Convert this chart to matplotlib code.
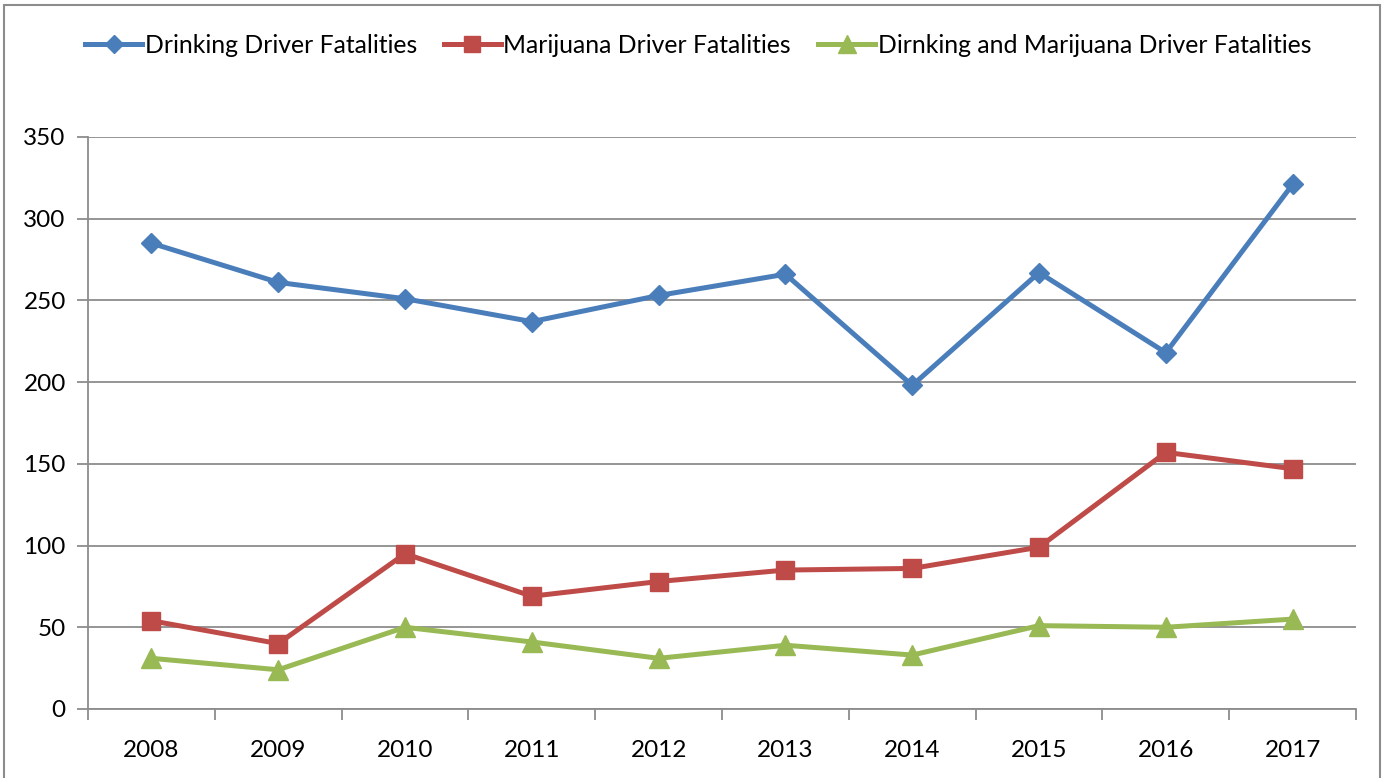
import matplotlib
matplotlib.use("Agg")
import matplotlib.pyplot as plt
from matplotlib.patches import Rectangle

years = ["2008", "2009", "2010", "2011", "2012", "2013", "2014", "2015", "2016", "2017"]
drinking = [285, 261, 251, 237, 253, 266, 198, 267, 218, 321]
marijuana = [54, 40, 95, 69, 78, 85, 86, 99, 157, 147]
both = [31, 24, 50, 41, 31, 39, 33, 51, 50, 55]

series_labels = [
    "Drinking Driver Fatalities",
    "Marijuana Driver Fatalities",
    "Dirnking and Marijuana Driver Fatalities",
]
y_ticks = [0, 50, 100, 150, 200, 250, 300, 350]

plt.rcParams["font.family"] = ["Lato", "DejaVu Sans"]

fig = plt.figure(figsize=(13.88, 7.78), dpi=100)
fig.patches.append(Rectangle((0.003, -0.01), 0.991, 1.003, transform=fig.transFigure,
                             fill=False, edgecolor="#8c8c8c", linewidth=1.5))
ax = fig.add_axes([0.0634, 0.0887, 0.9136, 0.7353])

x = list(range(len(years)))
ax.plot(x, drinking, color="#4A7EBB", lw=3.6, marker="D", ms=10,
        label=series_labels[0], zorder=3)
ax.plot(x, marijuana, color="#BE4B48", lw=3.6, marker="s", ms=13,
        label=series_labels[1], zorder=3)
ax.plot(x, both, color="#98B954", lw=3.6, marker="^", ms=14,
        label=series_labels[2], zorder=3)

ax.set_xlim(-0.5, len(years) - 0.5)
ax.set_ylim(0, 350)
ax.set_yticks(y_ticks)
ax.set_yticklabels([str(v) for v in y_ticks], fontsize=17.5)
ax.yaxis.grid(True, color="#8c8c8c", lw=1.3)
ax.set_axisbelow(True)

# category labels centred, tick marks on the category boundaries
ax.set_xticks(x)
ax.set_xticklabels(years, fontsize=17.5)
ax.tick_params(axis="x", length=0, pad=22)
ax.set_xticks([i - 0.5 for i in range(len(years) + 1)], minor=True)
ax.tick_params(axis="x", which="minor", length=8, width=1.3, color="#8c8c8c", direction="out")
ax.tick_params(axis="y", length=8, width=1.3, color="#8c8c8c", pad=8)

for s in ["top", "right"]:
    ax.spines[s].set_visible(False)
for s in ["left", "bottom"]:
    ax.spines[s].set_color("#8c8c8c")
    ax.spines[s].set_linewidth(1.3)

fig.legend(loc="center", bbox_to_anchor=(0.503, 0.942), ncol=3, frameon=False,
           fontsize=17.8, handlelength=2.3, handletextpad=0.1, columnspacing=1.1,
           markerscale=0.9)

fig.savefig("out.png", dpi=100)
